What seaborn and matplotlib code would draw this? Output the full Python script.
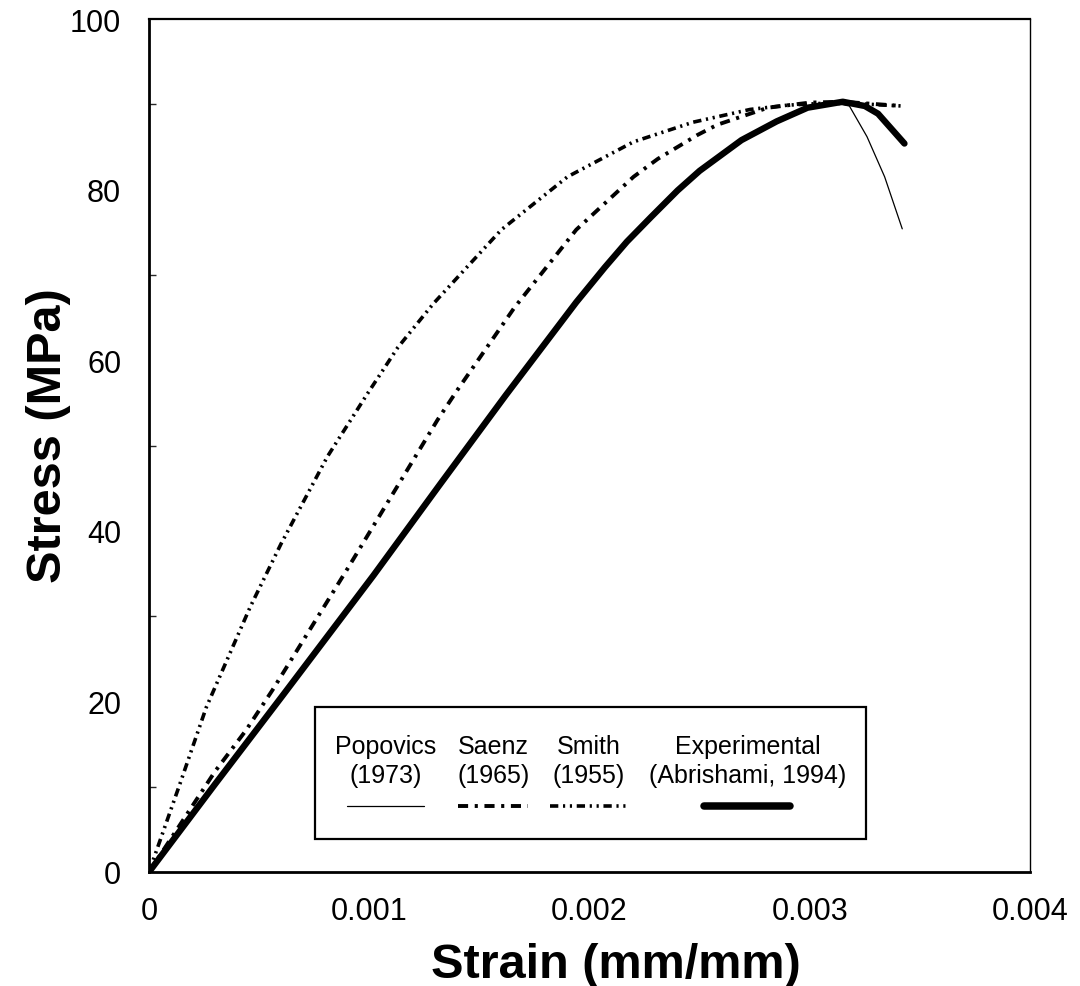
import numpy as np
import pandas as pd
import matplotlib
matplotlib.use("Agg")
import matplotlib.pyplot as plt
import seaborn as sns
from matplotlib.lines import Line2D
from matplotlib.offsetbox import TextArea, DrawingArea, VPacker, HPacker, AnchoredOffsetbox

# ---------------- data ----------------
exp_strain = [0, 0.00030, 0.00061, 0.00102, 0.00132, 0.00162, 0.00194, 0.00207,
              0.00217, 0.00228, 0.00240, 0.00250, 0.00269, 0.00285, 0.00299,
              0.00315, 0.00325, 0.00331, 0.00343]
exp_stress = [0, 10.3, 20.8, 34.8, 45.4, 55.9, 66.8, 70.9,
              73.9, 76.8, 79.9, 82.2, 85.8, 88.0, 89.6,
              90.3, 89.8, 88.9, 85.4]

pop_strain = [0, 0.00030, 0.00061, 0.00102, 0.00132, 0.00162, 0.00194, 0.00207,
              0.00217, 0.00228, 0.00240, 0.00250, 0.00269, 0.00285, 0.00299,
              0.00310, 0.00318, 0.00326, 0.00334, 0.00342]
pop_stress = [0, 10.2, 20.6, 34.5, 45.1, 55.6, 66.5, 70.7,
              73.8, 76.6, 79.7, 82.0, 85.7, 88.0, 89.6,
              90.2, 89.8, 86.2, 81.5, 75.4]

sae_strain = [0, 0.00030, 0.00044, 0.00056, 0.00090, 0.00131, 0.00140, 0.00166,
              0.00194, 0.00220, 0.00231, 0.00249, 0.00258, 0.00281, 0.00300,
              0.00315, 0.00342]
sae_stress = [0, 11.8, 16.6, 21.3, 35.5, 53.0, 56.5, 66.2,
              75.3, 81.5, 83.6, 86.4, 87.6, 89.6, 90.2,
              90.3, 89.8]

smi_strain = [0, 0.00014, 0.00026, 0.00046, 0.00060, 0.00081, 0.00099, 0.00113,
              0.00129, 0.00160, 0.00190, 0.00220, 0.00247, 0.00273, 0.00290,
              0.00305, 0.00320, 0.00342]
smi_stress = [0, 10.3, 19.3, 31.1, 38.5, 48.7, 56.0, 61.5,
              66.6, 75.3, 81.5, 85.6, 87.9, 89.4, 89.9,
              90.1, 90.1, 89.8]

series_names = ["Popovics", "Saenz", "Smith", "Experimental"]
series_years = ["(1973)", "(1965)", "(1955)", "(Abrishami, 1994)"]

x_ticks = [0, 0.001, 0.002, 0.003, 0.004]
x_tick_labels = ["0", "0.001", "0.002", "0.003", "0.004"]
y_ticks = [0, 20, 40, 60, 80, 100]
y_tick_labels = ["0", "20", "40", "60", "80", "100"]
x_label = "Strain (mm/mm)"
y_label = "Stress (MPa)"

# ---------------- styling ----------------
sns.set_theme(style="white")
plt.rcParams["font.family"] = ["Liberation Sans", "DejaVu Sans"]
plt.rcParams["text.color"] = "black"
plt.rcParams["axes.labelcolor"] = "black"

FONT = "Liberation Sans"
styles = {
    "Popovics": dict(lw=0.9, ls="-"),
    "Saenz": dict(lw=2.8, ls=(0, (2.6, 1.7, 0.8, 1.7))),
    "Smith": dict(lw=2.6, ls=(0, (2.3, 1.3, 0.6, 1.3, 0.6, 1.3))),
    "Experimental": dict(lw=4.6, ls="-"),
}

fig = plt.figure(figsize=(10.8, 9.87), dpi=100)
ax = fig.add_axes([149 / 1080, 1 - 873 / 987, (1030 - 149) / 1080, (873 - 20) / 987])

data = {
    "Popovics": (pop_strain, pop_stress),
    "Saenz": (sae_strain, sae_stress),
    "Smith": (smi_strain, smi_stress),
    "Experimental": (exp_strain, exp_stress),
}
for name in ["Smith", "Saenz", "Experimental", "Popovics"]:
    xs, ys = data[name]
    df = pd.DataFrame({"strain": xs, "stress": ys})
    st = styles[name]
    sns.lineplot(data=df, x="strain", y="stress", ax=ax, sort=False, estimator=None,
                 color="black", linewidth=st["lw"], linestyle=st["ls"],
                 solid_capstyle="round", solid_joinstyle="round", dash_capstyle="butt")

ax.set_xlim(0, 0.004)
ax.set_ylim(0, 100)
ax.set_xticks(x_ticks)
ax.set_xticklabels(x_tick_labels)
ax.set_yticks(y_ticks)
ax.set_yticklabels(y_tick_labels)
ax.set_yticks([10, 30, 50, 70, 90], minor=True)

ax.tick_params(axis="x", which="major", direction="in", length=5, width=1,
               pad=17, labelsize=22, colors="black")
ax.tick_params(axis="y", which="major", direction="in", length=9, width=1,
               pad=20, labelsize=22, colors="black")
ax.tick_params(axis="y", which="minor", direction="in", length=5, width=1, left=True)
for lab in ax.get_xticklabels() + ax.get_yticklabels():
    lab.set_fontfamily(FONT)

ax.set_xlabel(x_label, fontsize=35, fontweight="bold", fontfamily=FONT, color="black")
ax.set_ylabel(y_label, fontsize=35, fontweight="bold", fontfamily=FONT, color="black")
ax.xaxis.set_label_coords(0.53, -0.082)
ax.yaxis.set_label_coords(-0.088, 0.513)

for side, lw in [("left", 2.0), ("bottom", 2.0), ("top", 1.6), ("right", 1.0)]:
    ax.spines[side].set_visible(True)
    ax.spines[side].set_color("black")
    ax.spines[side].set_linewidth(lw)

# ---------------- legend: labels above line samples ----------------
cols = []
sample_w = {"Popovics": 56, "Saenz": 50, "Smith": 56, "Experimental": 62}
for name, yr in zip(series_names, series_years):
    ta = TextArea(f"{name}\n{yr}",
                  textprops=dict(fontsize=18, fontfamily=FONT, ha="center",
                                 multialignment="center", linespacing=1.25, color="black"))
    w = sample_w[name]
    da = DrawingArea(w, 8, 0, 0)
    st = styles[name]
    lw = st["lw"] + (0.8 if name == "Experimental" else 0)
    da.add_artist(Line2D([0, w], [4, 4], color="black", linewidth=lw, linestyle=st["ls"],
                         solid_capstyle="round", dash_capstyle="butt"))
    cols.append(VPacker(children=[ta, da], align="center", pad=0, sep=10))
row = HPacker(children=cols, align="top", pad=0, sep=15)
outer = VPacker(children=[DrawingArea(1, 5), row, DrawingArea(1, 5)], align="center",
                pad=0, sep=0)
anch = AnchoredOffsetbox(loc="lower left", child=outer, pad=0.8, borderpad=0,
                         frameon=True, bbox_to_anchor=(0.1884, 0.0387),
                         bbox_transform=ax.transAxes, prop=dict(size=18))
anch.patch.set_boxstyle("square", pad=0)
anch.patch.set_edgecolor("black")
anch.patch.set_linewidth(1.6)
anch.patch.set_facecolor("white")
ax.add_artist(anch)

fig.savefig("out.png", dpi=100, facecolor="white")
